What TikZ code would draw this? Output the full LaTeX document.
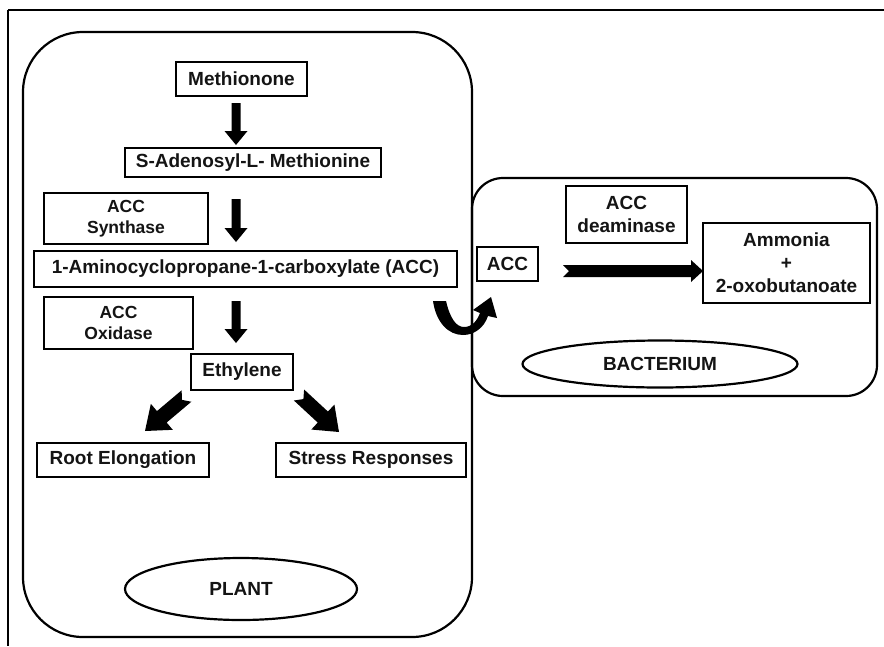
\documentclass[tikz,border=0pt]{standalone}
\usepackage{fontspec}
\setmainfont{Liberation Sans}
\usetikzlibrary{calc,shapes.geometric}

% Filled block arrow from #1 to #2:
% #3 half shaft width, #4 half head width, #5 head length, #6 tail notch depth
\newcommand{\blockarrow}[6]{%
  \coordinate (hb) at ($(#2)!#5!(#1)$);
  \coordinate (nt) at ($(#1)!#6!(#2)$);
  \fill[black]
    ($(#1)!#3!90:(#2)$) -- ($(hb)!#3!90:(#2)$) -- ($(hb)!#4!90:(#2)$) --
    (#2) --
    ($(hb)!#4!-90:(#2)$) -- ($(hb)!#3!-90:(#2)$) -- ($(#1)!#3!-90:(#2)$) --
    (nt) -- cycle;
}

\begin{document}
\begin{tikzpicture}[x=1pt,y=-1pt,
  txt/.style={font=\bfseries\fontsize{19}{23}\selectfont, text=black!92},
  box/.style={txt, draw=black, line width=2.6pt, inner sep=0pt, align=center},
  enzyme/.style={box, font=\bfseries\fontsize{17.5}{21}\selectfont},
  cell/.style={draw=black, line width=2.2pt},
  label/.style={txt, draw=black, line width=2.2pt, ellipse, inner sep=0pt}]
\useasboundingbox (0,0) rectangle (884,646);
\fill[white] (0,0) rectangle (884,646);

% outer frame (top and left edges)
\draw[line width=2.8pt] (8,10) -- (884,10);
\draw[line width=2.2pt] (8,10) -- (8,646);

% cells
\draw[cell, rounded corners=60pt] (23,32) rectangle (472,637);
\draw[cell, rounded corners=31pt] (472,178) rectangle (877,396);

% plant pathway
\node[box, minimum width=131pt, minimum height=34pt] (meth) at (241.5,79) {Methionone};
\node[box, minimum width=256pt, minimum height=29pt] (sam) at (253,162.5) {S-Adenosyl-L- Methionine};
\node[enzyme, minimum width=164pt, minimum height=51pt] (accsyn) at (126,218.5) {ACC\\Synthase};
\node[box, minimum width=423pt, minimum height=36pt] (acc) at (245.5,269) {1-Aminocyclopropane-1-carboxylate (ACC)};
\node[enzyme, minimum width=149pt, minimum height=52pt] (accox) at (118.5,323) {ACC\\Oxidase};
\node[box, minimum width=102pt, minimum height=36pt] (eth) at (242,372) {Ethylene};
\node[box, minimum width=172pt, minimum height=34pt] (root) at (123,460) {Root Elongation};
\node[box, minimum width=190pt, minimum height=34pt] (stress) at (371,460) {Stress Responses};
\node[label, minimum width=232pt, minimum height=62pt] (plantlbl) at (241,589) {PLANT};

% bacterial side
\node[box, minimum width=121pt, minimum height=57pt] (deam) at (626.5,214.5) {ACC\\deaminase};
\node[box, minimum width=167pt, minimum height=80pt] (prod) at (786.5,263) {Ammonia\\+\\2-oxobutanoate};
\node[box, minimum width=61pt, minimum height=34pt] (accb) at (507.5,264) {ACC};
\node[label, minimum width=275pt, minimum height=47pt] (bactlbl) at (660,364) {BACTERIUM};

% arrow end points
\coordinate (a1s) at (236,103);   \coordinate (a1e) at (236,145);
\coordinate (a2s) at (236,199);   \coordinate (a2e) at (236,242);
\coordinate (a3s) at (236,301);   \coordinate (a3e) at (236,343);
\coordinate (dls) at (186.5,396); \coordinate (dle) at (145,431);
\coordinate (drs) at (299,395);   \coordinate (dre) at (339,432);
\coordinate (hs)  at (563,271);   \coordinate (he)  at (703,271);

\blockarrow{a1s}{a1e}{4.5pt}{11.5pt}{14pt}{0pt}
\blockarrow{a2s}{a2e}{4.5pt}{11.5pt}{14pt}{0pt}
\blockarrow{a3s}{a3e}{4.5pt}{11.5pt}{14pt}{0pt}
\blockarrow{dls}{dle}{7.5pt}{17pt}{22pt}{6pt}
\blockarrow{drs}{dre}{7.5pt}{17pt}{22pt}{6pt}
\blockarrow{hs}{he}{6pt}{11pt}{12pt}{6pt}

% ACC crossing into the bacterium
\fill[black] (433,301) -- (446,301)
  .. controls (450,318) and (456,327) .. (464,327)
  .. controls (472,327) and (477,321) .. (480,313)
  -- (473,310) -- (491,297) -- (497,318) -- (488,316)
  .. controls (484,328) and (474,335) .. (463,335)
  .. controls (448,335) and (436,322) .. (433,301) -- cycle;
\end{tikzpicture}
\end{document}
